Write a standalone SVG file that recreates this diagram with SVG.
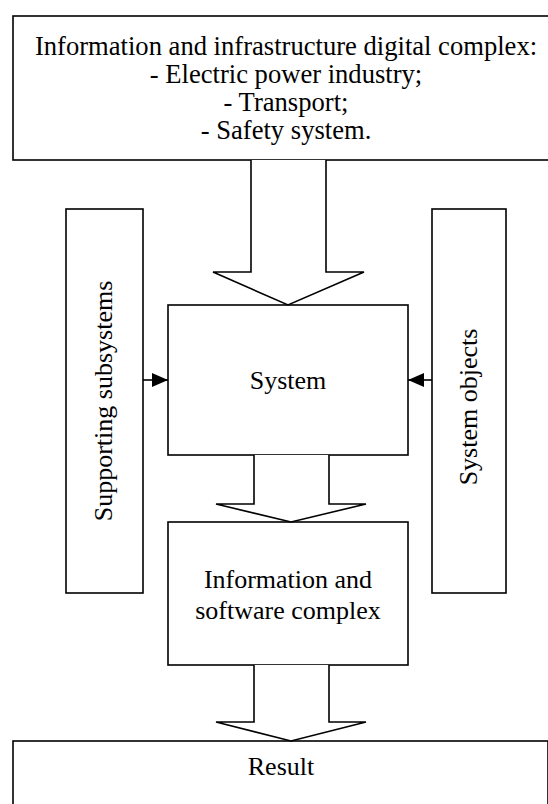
<svg xmlns="http://www.w3.org/2000/svg" width="548" height="804" viewBox="0 0 548 804">
  <style>
    .box { fill: #ffffff; stroke: #000000; stroke-width: 1.6; }
    .flow { fill: #ffffff; stroke: #000000; stroke-width: 1.6; stroke-linejoin: miter; }
    .link { fill: none; stroke: #000000; stroke-width: 1.6; }
    .lbl { font-family: "Liberation Serif", "Times New Roman", serif; font-size: 26px; fill: #000000; text-anchor: middle; }
    .lbl.head { font-size: 26.6px; }
  </style>
  <defs>
    <marker id="head" viewBox="0 0 16 14" refX="16" refY="7" markerWidth="16" markerHeight="14" markerUnits="userSpaceOnUse" orient="auto">
      <path d="M0,0 L16,7 L0,14 Z" fill="#000000"/>
    </marker>
  </defs>
  <rect width="548" height="804" fill="#ffffff"/>

  <g id="complex">
    <rect class="box" x="13" y="16" width="550" height="144"/>
    <text class="lbl head" x="286" y="55">Information and infrastructure digital complex:</text>
    <text class="lbl head" x="286" y="83">- Electric power industry;</text>
    <text class="lbl head" x="286" y="111">- Transport;</text>
    <text class="lbl head" x="286" y="139">- Safety system.</text>
  </g>

  <g id="supporting">
    <rect class="box" x="66" y="209" width="77" height="384"/>
    <text class="lbl" transform="translate(112,401) rotate(-90)">Supporting subsystems</text>
  </g>

  <g id="objects">
    <rect class="box" x="432" y="209" width="74" height="384"/>
    <text class="lbl" transform="translate(477,407) rotate(-90)">System objects</text>
  </g>

  <g id="system">
    <rect class="box" x="168" y="305" width="240" height="150"/>
    <text class="lbl" x="288" y="389">System</text>
  </g>

  <g id="software">
    <rect class="box" x="168" y="522" width="240" height="143"/>
    <text class="lbl" x="288" y="588">Information and</text>
    <text class="lbl" x="288" y="619">software complex</text>
  </g>

  <g id="result">
    <rect class="box" x="13" y="741" width="535" height="80"/>
    <text class="lbl" x="281" y="775">Result</text>
  </g>

  <g id="connectors">
    <polyline class="flow" points="251,160 251,272 213,272 288,305 364,272 326,272 326,160"/>
    <polyline class="flow" points="254,455 254,504 216,504 291,522 366,504 329,504 329,455"/>
    <polyline class="flow" points="254,665 254,722 216,722 291,741 366,722 329,722 329,665"/>
    <line class="link" x1="143" y1="380" x2="168" y2="380" marker-end="url(#head)"/>
    <line class="link" x1="432" y1="380" x2="408" y2="380" marker-end="url(#head)"/>
  </g>
</svg>
